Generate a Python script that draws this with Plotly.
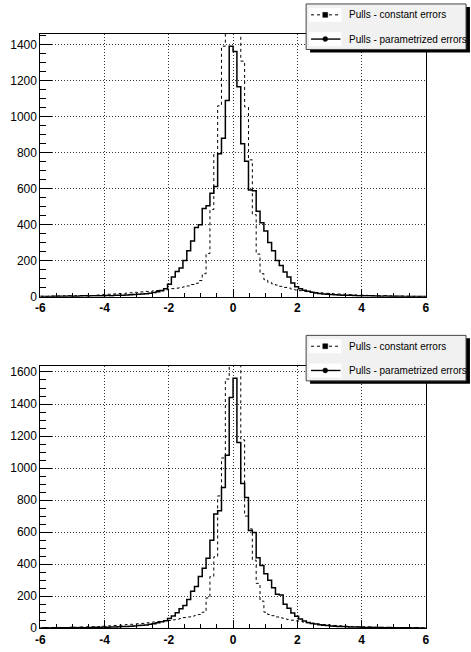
import numpy as np
import plotly.graph_objects as go

W, H = 471, 652

# ---- histogram binning (100 bins from -6 to 6) ----
x_min, x_max, n_bins = -6.0, 6.0, 100

# ---- top panel ----
top_param = [2, 1, 2, 3, 2, 3, 2, 4, 3, 3, 4, 5, 4, 5, 6, 5, 6,
             7, 6, 8, 9, 8, 10, 11, 12, 14, 15, 17, 20, 24, 28, 35, 45,
             70, 110, 140, 160, 201, 256, 310, 385, 400, 490, 505, 575, 612, 794, 880, 1089, 1391,
             1362, 1166, 849, 752, 593, 588, 475, 411, 365, 301, 256, 201, 173, 137, 110, 77, 55,
             45, 36, 30, 25, 21, 18, 16, 14, 12, 11, 10, 9, 8, 8, 7, 6,
             6, 5, 5, 4, 4, 3, 4, 3, 3, 2, 3, 2, 2, 1, 2, 1, 1]
top_const = [3, 2, 4, 3, 5, 4, 6, 5, 4, 6, 7, 6, 8, 7, 9, 10, 12,
             14, 13, 16, 18, 17, 20, 22, 25, 24, 27, 30, 28, 33, 35, 32, 38,
             42, 45, 48, 52, 55, 60, 68, 75, 90, 128, 240, 484, 790, 1060, 1391, 1720, 1950,
             1900, 1640, 1308, 1054, 760, 456, 237, 128, 95, 80, 72, 65, 58, 52, 48, 42, 38,
             34, 30, 28, 26, 24, 22, 21, 19, 18, 16, 15, 14, 12, 11, 10, 9,
             9, 8, 7, 7, 6, 5, 6, 5, 4, 4, 3, 4, 3, 2, 3, 2, 2]

# ---- bottom panel ----
bot_param = [1, 2, 1, 2, 3, 2, 2, 3, 4, 3, 4, 3, 5, 4, 6, 5, 7,
             6, 8, 7, 9, 10, 11, 12, 14, 16, 18, 20, 24, 28, 34, 40, 46,
             60, 76, 97, 121, 142, 179, 230, 261, 323, 374, 436, 549, 713, 734, 878, 1080, 1441,
             1561, 1160, 903, 816, 610, 598, 440, 392, 340, 300, 252, 212, 208, 150, 125, 95, 75,
             58, 45, 36, 30, 26, 22, 18, 16, 14, 12, 11, 10, 9, 8, 7, 7,
             6, 5, 6, 4, 5, 4, 3, 4, 3, 2, 3, 2, 2, 1, 2, 1, 1]
bot_const = [2, 3, 2, 4, 3, 5, 4, 5, 6, 5, 7, 6, 8, 9, 8, 10, 12,
             15, 14, 17, 19, 18, 22, 24, 26, 28, 30, 33, 36, 38, 42, 40, 45,
             48, 52, 55, 60, 66, 70, 75, 80, 86, 100, 189, 323, 446, 826, 1063, 1556, 2100,
             2050, 1780, 1176, 700, 620, 425, 280, 169, 100, 85, 78, 70, 64, 58, 54, 50, 46,
             42, 38, 34, 31, 28, 26, 23, 21, 19, 17, 15, 14, 12, 11, 10, 9,
             8, 8, 7, 6, 6, 5, 5, 4, 4, 3, 3, 3, 2, 2, 2, 1, 1]

x_tickvals = [-6, -4, -2, 0, 2, 4, 6]
legend_labels = ["Pulls - constant errors", "Pulls - parametrized errors"]

edges = np.linspace(x_min, x_max, n_bins + 1)

FONT = "Liberation Sans, Arial, Helvetica, sans-serif"


def step_trace(vals, dashed, xa, ya):
    y = list(vals) + [vals[-1]]
    return go.Scatter(
        x=edges, y=y, mode="lines", line_shape="hv",
        line=dict(color="black", width=1 if dashed else 1.5,
                  dash="3px,3px" if dashed else "solid"),
        xaxis=xa, yaxis=ya, showlegend=False, hoverinfo="skip")


fig = go.Figure()
fig.add_trace(step_trace(top_param, False, "x", "y"))
fig.add_trace(step_trace(top_const, True, "x", "y"))
fig.add_trace(step_trace(bot_param, False, "x2", "y2"))
fig.add_trace(step_trace(bot_const, True, "x2", "y2"))

px = lambda v: v / W
py = lambda v: 1 - v / H

frame_l, frame_r = 36, 429
top_b, top_t = 300, 34
bot_b, bot_t = 635, 369.7

xaxis_common = dict(
    range=[x_min, x_max], tickvals=x_tickvals, ticktext=[str(v) for v in x_tickvals],
    ticks="inside", ticklen=8, tickwidth=1, tickcolor="black",
    minor=dict(ticks="inside", ticklen=4, dtick=0.5, tick0=0, tickcolor="black", showgrid=False),
    showline=True, linecolor="black", linewidth=1, mirror=True,
    showgrid=True, gridcolor="#333", griddash="1px,2px", gridwidth=1,
    zeroline=False, tickfont=dict(family=FONT, size=12, color="black", weight="bold"),
    domain=[px(frame_l), px(frame_r)], fixedrange=True,
)
yaxis_common = dict(
    dtick=200, tick0=0,
    ticks="inside", ticklen=12, tickwidth=1, tickcolor="black",
    minor=dict(ticks="inside", ticklen=6, dtick=50, tick0=0, tickcolor="black", showgrid=False),
    showline=True, linecolor="black", linewidth=1, mirror=True,
    showgrid=True, gridcolor="#333", griddash="1px,2px", gridwidth=1,
    zeroline=False, tickfont=dict(family=FONT, size=12, color="black"),
    fixedrange=True,
)

fig.update_layout(
    width=W, height=H, margin=dict(l=0, r=0, t=0, b=0),
    paper_bgcolor="white", plot_bgcolor="white", showlegend=False,
    xaxis=dict(**xaxis_common, anchor="y"),
    yaxis=dict(**yaxis_common, anchor="x", range=[0, 1.05 * max(top_param)],
               domain=[py(top_b), py(top_t)]),
    xaxis2=dict(**xaxis_common, anchor="y2"),
    yaxis2=dict(**yaxis_common, anchor="x2", range=[0, 1.05 * max(bot_param)],
                domain=[py(bot_b), py(bot_t)]),
)

shapes = []
annotations = []


def add_legend(top):
    x0, x1 = 307, 470
    h = 46
    # shadow
    shapes.append(dict(type="rect", xref="paper", yref="paper",
                       x0=px(x0 + 4), x1=px(x1 + 4), y0=py(top + h + 3), y1=py(top + 3),
                       fillcolor="black", line=dict(width=0)))
    # box
    shapes.append(dict(type="rect", xref="paper", yref="paper",
                       x0=px(x0), x1=px(x1), y0=py(top + h), y1=py(top),
                       fillcolor="#f1f1f1", line=dict(color="#444", width=1)))
    for k, (label, dashed) in enumerate(zip(legend_labels, [True, False])):
        yc = top + 11 + 24.5 * k
        shapes.append(dict(type="rect", xref="paper", yref="paper",
                           x0=px(310), x1=px(343), y0=py(yc + 7), y1=py(yc - 7),
                           fillcolor="white", line=dict(width=0)))
        shapes.append(dict(type="line", xref="paper", yref="paper",
                           x0=px(312), x1=px(342), y0=py(yc), y1=py(yc),
                           line=dict(color="black", width=1 if dashed else 1.4,
                                     dash="3px,3px" if dashed else "solid")))
        r = 2.5
        shapes.append(dict(type="rect" if dashed else "circle", xref="paper", yref="paper",
                           x0=px(326.5 - r), x1=px(326.5 + r), y0=py(yc + r), y1=py(yc - r),
                           fillcolor="black", line=dict(color="black", width=0.5)))
        annotations.append(dict(x=px(349), y=py(yc), xref="paper", yref="paper",
                                text=label, showarrow=False, xanchor="left", yanchor="middle",
                                font=dict(family=FONT, size=10, color="black")))


add_legend(4)
add_legend(339)
fig.update_layout(shapes=shapes, annotations=annotations)

fig.write_html("out.html", config={"displayModeBar": False, "staticPlot": True},
               post_script="document.body.style.margin='0';document.body.style.overflow='hidden';")
